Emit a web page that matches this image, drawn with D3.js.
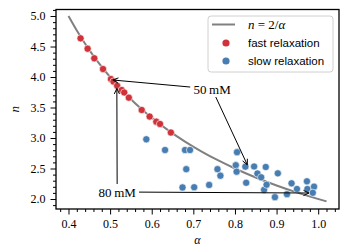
<!DOCTYPE html>
<html>
<head>
<meta charset="utf-8">
<script src="https://cdn.jsdelivr.net/npm/d3@7"></script>
<style>
  body { margin: 0; background: #fff; }
  svg { display: block; }
</style>
</head>
<body>
<div id="fig"></div>
<script>
// fast relaxation points (alpha, n)
var fastAlpha = [0.429, 0.446, 0.462, 0.483, 0.502, 0.508, 0.517, 0.528, 0.534, 0.545, 0.576, 0.595, 0.611, 0.620, 0.646];
var fastN     = [4.634, 4.464, 4.307, 4.131, 3.967, 3.926, 3.857, 3.787, 3.746, 3.661, 3.459, 3.352, 3.267, 3.230, 3.090];

// slow relaxation points (alpha, n)
var slowAlpha = [0.587, 0.632, 0.680, 0.692, 0.683, 0.674, 0.702, 0.738, 0.758, 0.765,
                 0.805, 0.802, 0.804, 0.825, 0.827, 0.846, 0.854, 0.870, 0.863, 0.874,
                 0.876, 0.903, 0.896, 0.925, 0.936, 0.949, 0.973, 0.974, 0.990, 0.987];
var slowN     = [2.979, 2.803, 2.803, 2.803, 2.489, 2.189, 2.193, 2.230, 2.489, 2.382,
                 2.767, 2.554, 2.448, 2.530, 2.266, 2.533, 2.418, 2.151, 2.356, 2.525,
                 2.234, 2.421, 2.030, 2.079, 2.257, 2.164, 2.290, 2.164, 2.202, 2.102];

// n = 2/alpha reference curve sample points
var curveAlpha = [0.40, 0.42, 0.44, 0.46, 0.48, 0.50, 0.53, 0.56, 0.60, 0.64, 0.68, 0.72, 0.76, 0.80, 0.85, 0.90, 0.95, 1.02];

// annotations: text position and arrow tips, in data coords
var annText   = ["50\u2009mM", "80\u2009mM"];
var annAlpha  = [0.745, 0.517];
var annN      = [3.803, 2.115];
var tipAlpha  = [[0.5066, 0.8296], [0.5162, 0.9777]];
var tipN      = [[3.951, 2.562], [3.811, 2.098]];

var xMajor = [0.4, 0.5, 0.6, 0.7, 0.8, 0.9, 1.0];
var yMajor = [2.0, 2.5, 3.0, 3.5, 4.0, 4.5, 5.0];

var width = 349, height = 246;
var margin = {top: 9.5, right: 10, bottom: 37, left: 56};

var red = "#cf3339", blue = "#477db0";

var svg = d3.select("#fig").append("svg")
  .attr("width", width).attr("height", height);

var x = d3.scaleLinear().domain([0.37, 1.05]).range([margin.left, width - margin.right]);
var y = d3.scaleLinear().domain([1.836, 5.107]).range([height - margin.bottom, margin.top]);

var serif = "'Liberation Serif', 'DejaVu Serif', serif";
var sans = "'Liberation Sans', Arial, sans-serif";

// minor ticks
var xMinor = d3.range(0.38, 1.045, 0.02).filter(function(v) { return Math.abs(v * 10 - Math.round(v * 10)) > 1e-6; });
var yMinor = d3.range(1.9, 5.105, 0.1).filter(function(v) { return Math.abs(v * 2 - Math.round(v * 2)) > 1e-6; });

function styleAxis(g) {
  g.select(".domain").remove();
  g.selectAll("line").attr("stroke", "#000").attr("stroke-width", 1);
  g.selectAll("text").style("font-family", serif).style("font-size", "12px").attr("fill", "#000");
}

svg.append("g").attr("transform", "translate(0," + (height - margin.bottom) + ")")
  .call(d3.axisBottom(x).tickValues(xMinor).tickSize(3).tickFormat(""))
  .call(styleAxis);
svg.append("g").attr("transform", "translate(0," + (height - margin.bottom) + ")")
  .call(d3.axisBottom(x).tickValues(xMajor).tickSize(5.5).tickPadding(5).tickFormat(d3.format(".1f")))
  .call(styleAxis);
svg.append("g").attr("transform", "translate(" + margin.left + ",0)")
  .call(d3.axisLeft(y).tickValues(yMinor).tickSize(3).tickFormat(""))
  .call(styleAxis);
svg.append("g").attr("transform", "translate(" + margin.left + ",0)")
  .call(d3.axisLeft(y).tickValues(yMajor).tickSize(5.5).tickPadding(5).tickFormat(d3.format(".1f")))
  .call(styleAxis);

// frame
svg.append("rect")
  .attr("x", margin.left).attr("y", margin.top)
  .attr("width", width - margin.left - margin.right)
  .attr("height", height - margin.top - margin.bottom)
  .attr("fill", "none").attr("stroke", "#000").attr("stroke-width", 1.3);

// axis labels
svg.append("text")
  .attr("transform", "translate(19," + (height - margin.bottom + margin.top) / 2 + ") rotate(-90)")
  .attr("text-anchor", "middle")
  .style("font-family", serif).style("font-style", "italic").style("font-size", "13px")
  .text("n");
svg.append("text")
  .attr("x", (margin.left + width - margin.right) / 2).attr("y", 243.5)
  .attr("text-anchor", "middle")
  .style("font-family", serif).style("font-style", "italic").style("font-size", "12px")
  .text("\u03b1");

// curve n = 2/alpha
var line = d3.line().x(function(d) { return x(d); }).y(function(d) { return y(2 / d); }).curve(d3.curveMonotoneX);
svg.append("path").datum(curveAlpha)
  .attr("d", line).attr("fill", "none")
  .attr("stroke", "#808080").attr("stroke-width", 2);

// points
function dots(alpha, n, color) {
  svg.append("g").selectAll("circle")
    .data(alpha.map(function(a, i) { return [a, n[i]]; }))
    .enter().append("circle")
    .attr("cx", function(d) { return x(d[0]); })
    .attr("cy", function(d) { return y(d[1]); })
    .attr("r", 3.6)
    .attr("fill", color)
    .attr("stroke", "#fff").attr("stroke-width", 0.6);
}
dots(fastAlpha, fastN, red);
dots(slowAlpha, slowN, blue);

// annotations with arrows
function arrow(x0, y0, x1, y1) {
  svg.append("line").attr("x1", x0).attr("y1", y0).attr("x2", x1).attr("y2", y1)
    .attr("stroke", "#000").attr("stroke-width", 1);
  var ang = Math.atan2(y1 - y0, x1 - x0), L = 6, w = 0.45;
  var p1 = [x1 - L * Math.cos(ang - w), y1 - L * Math.sin(ang - w)];
  var p2 = [x1 - L * Math.cos(ang + w), y1 - L * Math.sin(ang + w)];
  svg.append("path")
    .attr("d", "M" + p1 + "L" + x1 + "," + y1 + "L" + p2)
    .attr("fill", "none").attr("stroke", "#000").attr("stroke-width", 1);
}

annText.forEach(function(t, i) {
  var tx = x(annAlpha[i]), ty = y(annN[i]);
  var txt = svg.append("text")
    .attr("x", tx).attr("y", ty).attr("dy", "0.35em")
    .attr("text-anchor", "middle")
    .style("font-family", serif).style("font-size", "13px")
    .text(t);
  var bb = txt.node().getBBox();
  var hw = bb.width / 2 + 3, hh = 5 + 3;
  tipAlpha[i].forEach(function(a, j) {
    var ex = x(a), ey = y(tipN[i][j]);
    var dx = ex - tx, dy = ey - ty;
    var s = Math.min(dx !== 0 ? hw / Math.abs(dx) : Infinity, dy !== 0 ? hh / Math.abs(dy) : Infinity);
    arrow(tx + dx * s, ty + dy * s, ex, ey);
  });
});

// legend
var lg = svg.append("g").attr("transform", "translate(208,16)");
lg.append("rect").attr("width", 125).attr("height", 56).attr("rx", 3)
  .attr("fill", "#fff").attr("fill-opacity", 0.8)
  .attr("stroke", "#d0d0d0").attr("stroke-width", 1);
lg.append("line").attr("x1", 4).attr("x2", 27).attr("y1", 8.5).attr("y2", 8.5)
  .attr("stroke", "#808080").attr("stroke-width", 2);
var mt = lg.append("text").attr("x", 40).attr("y", 8.5).attr("dy", "0.35em")
  .style("font-family", serif).style("font-size", "13px");
mt.append("tspan").style("font-style", "italic").text("n");
mt.append("tspan").text(" = 2/");
mt.append("tspan").style("font-style", "italic").text("\u03b1");
[["fast relaxation", red], ["slow relaxation", blue]].forEach(function(d, i) {
  var yy = 27 + i * 18;
  lg.append("circle").attr("cx", 18).attr("cy", yy).attr("r", 3.6).attr("fill", d[1]);
  lg.append("text").attr("x", 40).attr("y", yy).attr("dy", "0.35em")
    .style("font-family", sans).style("font-size", "11.5px").text(d[0]);
});
</script>
</body>
</html>
